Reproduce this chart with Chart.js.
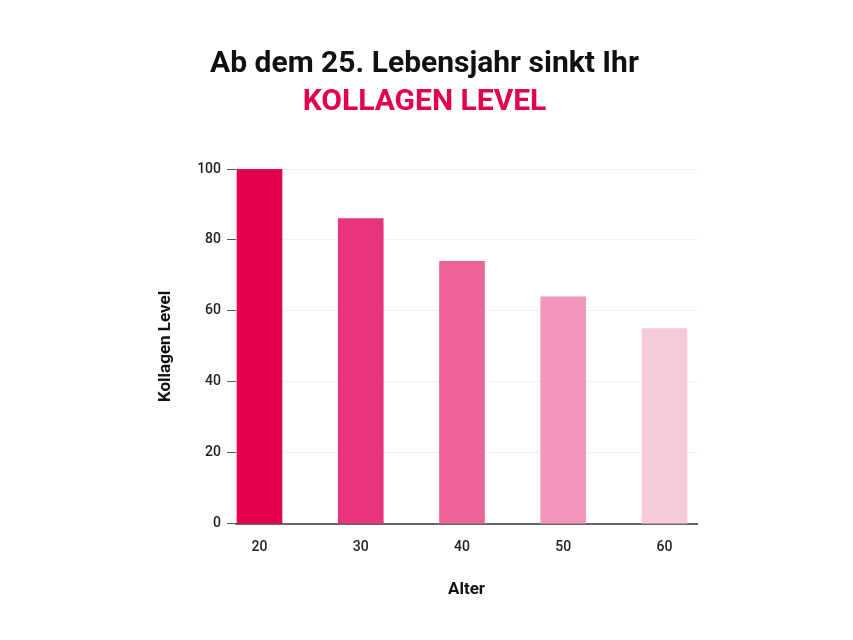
<!DOCTYPE html>
<html>
<head>
<meta charset="utf-8">
<script src="https://cdn.jsdelivr.net/npm/chart.js@4"></script>
<style>
  html, body { margin: 0; padding: 0; background: #fff; }
</style>
</head>
<body>
<canvas id="myChart" width="853" height="640"></canvas>
<script>
// Daten
const alter = [20, 30, 40, 50, 60];
const kollagen = [100, 86, 74, 64, 55];
const yTicks = [0, 20, 40, 60, 80, 100];
const barColors = ["#e2004f", "#e8347a", "#ec6496", "#f197b9", "#f7cadb"];

new Chart("myChart", {
    type: "bar",
    data: {
        datasets: [{
            data: alter.map((a, i) => ({ x: a, y: kollagen[i] })),
            backgroundColor: barColors,
            barThickness: 45
        }]
    },
    options: {
        responsive: false,
        animation: false,
        layout: { padding: { left: 152, right: 156, top: 46, bottom: 36 } },
        plugins: {
            legend: { display: false },
            tooltip: { enabled: false },
            title: {
                display: true,
                text: "Ab dem 25. Lebensjahr sinkt Ihr",
                color: "#111",
                font: { family: "Roboto", size: 30, weight: "bold" },
                padding: { top: 0, bottom: 2 }
            },
            subtitle: {
                display: true,
                text: "KOLLAGEN LEVEL",
                color: "#e2004f",
                font: { family: "Roboto", size: 30, weight: "bold" },
                padding: { top: 0, bottom: 49 }
            }
        },
        scales: {
            x: {
                type: "linear",
                offset: false,
                min: 17.68,
                max: 63.21,
                grid: { display: false },
                border: { display: true, color: "#666", width: 2 },
                afterBuildTicks: (scale) => { scale.ticks = alter.map(v => ({ value: v })); },
                ticks: {
                    color: "#222",
                    font: { family: "Roboto", size: 14, weight: "500" },
                    padding: 7
                },
                title: {
                    display: true,
                    text: "Alter",
                    color: "#111",
                    font: { family: "Roboto", size: 17, weight: "bold" },
                    padding: { top: 17 }
                }
            },
            y: {
                min: 0,
                max: 100,
                afterBuildTicks: (scale) => { scale.ticks = yTicks.map(v => ({ value: v })); },
                afterFit: (scale) => { scale.width = 84; },
                grid: { color: "#f1f1f1", tickColor: "#555", tickLength: 9 },
                border: { display: false },
                ticks: {
                    color: "#222",
                    font: { family: "Roboto", size: 14, weight: "500" },
                    padding: 6
                },
                title: {
                    display: true,
                    text: "Kollagen Level",
                    color: "#111",
                    font: { family: "Roboto", size: 17, weight: "bold" },
                    padding: 4
                }
            }
        }
    }
});
</script>
</body>
</html>
